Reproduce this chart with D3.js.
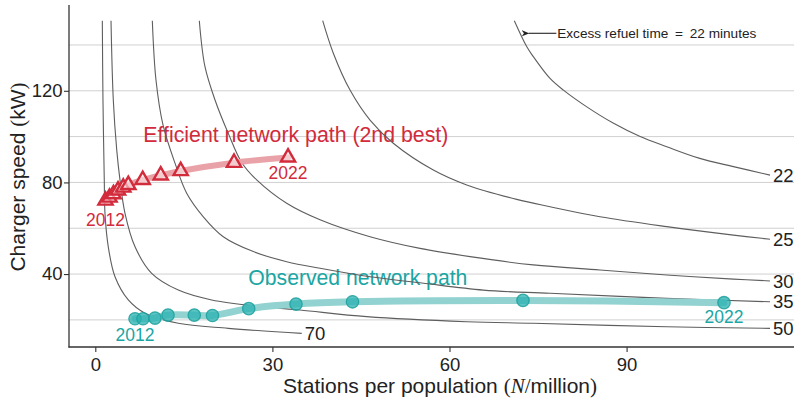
<!DOCTYPE html>
<html>
<head>
<meta charset="utf-8">
<script src="https://cdn.jsdelivr.net/npm/d3@7"></script>
<style>
  body { margin: 0; background: #fff; }
  svg { display: block; }
  text { font-family: "Liberation Sans", Arial, Helvetica, sans-serif; }
</style>
</head>
<body>
<svg id="chart" width="794" height="401"></svg>
<script>
// ---- Data ---------------------------------------------------------------
// Years of both network paths
const years = [2012, 2013, 2014, 2015, 2016, 2017, 2018, 2019, 2020, 2021, 2022];

// Efficient network path (2nd best): stations per million, charger kW
const efficientN = [1.73, 2.41, 3.08, 3.85, 4.74, 5.59, 8.03, 11.08, 14.47, 23.5, 32.65];
const efficientC = [72.1, 73.4, 74.9, 76.5, 77.8, 78.9, 81.1, 83.1, 85.0, 88.6, 90.9];

// Observed network path
const observedN = [6.73, 8.08, 10.11, 12.32, 16.77, 19.85, 25.99, 34.0, 43.57, 72.45, 106.5];
const observedC = [20.5, 20.5, 20.8, 22.1, 22.1, 21.9, 24.9, 26.9, 27.9, 28.5, 27.5];

// Iso-lines of excess refuel time (minutes): [stations per million, charger kW]
const contour22 = [[70.98,150.6],[73.1,139.2],[74.2,134.9],[77.03,125.4],[79.3,120.3],[83.2,113.1],
  [87.8,105.8],[92.3,100.0],[96.8,95.6],[102.4,90.5],[108.1,86.9],[114.3,83.2]];
const contour25 = [[38.52,150.6],[40.32,136.4],[43.15,120.3],[46.54,107.2],[50.48,97.1],[57.26,85.4],
  [62.92,78.9],[71.39,72.6],[77.03,69.4],[85.5,65.0],[96.8,60.7],[108.1,57.0],[114.3,55.2]];
const contour30 = [[17.62,150.6],[18.58,130.5],[20.28,116.0],[22.53,101.4],[24.85,88.5],[27.34,81.1],
  [32.42,70.9],[38.07,63.7],[46.54,56.3],[55.01,51.2],[63.48,47.6],[74.2,44.0],[85.5,41.8],
  [96.8,39.6],[108.1,37.8],[114.3,37.0]];
const contour35 = [[9.66,150.6],[10.28,124.7],[11.47,105.1],[13.5,88.4],[15.48,75.3],[18.3,65.0],
  [21.68,56.3],[26.77,49.8],[32.42,45.4],[38.07,42.5],[46.54,38.8],[55.01,36.2],[65.73,33.0],
  [77.03,31.6],[96.8,29.4],[114.3,27.9]];
const contour50 = [[2.66,150.6],[3.05,116.0],[3.63,94.2],[4.18,81.1],[5.03,66.5],[6.73,51.9],
  [9.55,40.3],[14.06,33.0],[19.72,28.7],[28.19,25.8],[34.68,24.3],[45.98,21.4],[62.92,19.2],
  [74.2,18.5],[96.8,17.0],[114.3,16.3]];
const contour70 = [[1.19,150.6],[1.30,116.0],[1.52,81.1],[1.64,66.5],[2.20,51.9],[3.34,38.8],
  [5.59,28.7],[8.42,22.9],[14.06,18.5],[22.53,16.3],[34.97,14.1]];
const contourMinutes = [22, 25, 30, 35, 50, 70];
const contourPoints = [contour22, contour25, contour30, contour35, contour50, contour70];

// Axis ticks and grid
const xTicks = [0, 30, 60, 90];
const yTicks = [40, 80, 120];
const gridValues = [20, 40, 60, 80, 100, 120, 140];

// ---- Layout -------------------------------------------------------------
const svg = d3.select("#chart");
const plot = { left: 69, right: 794, top: 5, bottom: 347 };

const x = d3.scaleLinear().domain([-4.455, 118.36]).range([plot.left, plot.right]);
const y = d3.scaleLinear().domain([8.16, 157.45]).range([plot.bottom, plot.top]);

const RED = "#d22b3b", RED_LIGHT = "#e9a2a7";
const TEAL = "#1aa6a4", TEAL_LIGHT = "#92d3d1";

svg.append("defs").append("clipPath").attr("id", "panel")
  .append("rect")
  .attr("x", plot.left).attr("y", plot.top)
  .attr("width", plot.right - plot.left).attr("height", plot.bottom - plot.top);

// Horizontal grid
svg.append("g").selectAll("line").data(gridValues).join("line")
  .attr("x1", plot.left).attr("x2", plot.right)
  .attr("y1", d => y(d)).attr("y2", d => y(d))
  .attr("stroke", "#d0d0d0").attr("stroke-width", 1);

// Path labels
svg.append("text")
  .attr("x", x(8.13)).attr("y", y(97.8))
  .attr("font-size", 21.3).attr("fill", RED)
  .text("Efficient network path (2nd best)");

svg.append("text")
  .attr("x", x(25.92)).attr("y", y(35.2))
  .attr("font-size", 21.2).attr("fill", TEAL)
  .text("Observed network path");

// Iso-lines of excess refuel time
const curveLine = d3.line()
  .x(d => x(d[0])).y(d => y(d[1]))
  .curve(d3.curveCatmullRom.alpha(0.5));

const contourG = svg.append("g").attr("clip-path", "url(#panel)");
contourPoints.forEach((pts, i) => {
  contourG.append("path")
    .attr("d", curveLine(pts))
    .attr("fill", "none")
    .attr("stroke", "#5e5e5e")
    .attr("stroke-width", 1.1);
  const end = pts[pts.length - 1];
  svg.append("text")
    .attr("x", x(end[0]) + 3).attr("y", y(end[1]))
    .attr("dy", "0.36em")
    .attr("font-size", 18.5).attr("fill", "#222")
    .text(contourMinutes[i]);
});

// Annotation for the 22-minute line
svg.append("defs").append("marker")
  .attr("id", "arrowhead")
  .attr("viewBox", "0 0 10 10")
  .attr("refX", 1).attr("refY", 5)
  .attr("markerWidth", 7).attr("markerHeight", 7)
  .attr("orient", "auto-start-reverse")
  .append("path").attr("d", "M10,1 L0,5 L10,9 L7,5 Z").attr("fill", "#222");

svg.append("line")
  .attr("x1", x(78.1)).attr("x2", x(73.4))
  .attr("y1", y(145.1)).attr("y2", y(145.1))
  .attr("stroke", "#222").attr("stroke-width", 1.1)
  .attr("marker-end", "url(#arrowhead)");

svg.append("text")
  .attr("x", x(78.25)).attr("y", y(145.1))
  .attr("dy", "0.38em")
  .attr("font-size", 13.6).attr("fill", "#222")
  .text("Excess refuel time\u2002=\u200222 minutes");

// Network paths
const pathLine = d3.line()
  .x(d => x(d[0])).y(d => y(d[1]))
  .curve(d3.curveCatmullRom.alpha(0.5));

const efficient = efficientN.map((n, i) => [n, efficientC[i]]);
const observed = observedN.map((n, i) => [n, observedC[i]]);

svg.append("path")
  .attr("d", pathLine(efficient))
  .attr("fill", "none").attr("stroke", RED_LIGHT)
  .attr("stroke-width", 6).attr("stroke-linecap", "round");

svg.append("path")
  .attr("d", pathLine(observed))
  .attr("fill", "none").attr("stroke", TEAL_LIGHT)
  .attr("stroke-width", 7).attr("stroke-linecap", "round");

svg.append("g").selectAll("circle").data(observed).join("circle")
  .attr("cx", d => x(d[0])).attr("cy", d => y(d[1]))
  .attr("r", 6.2)
  .attr("fill", "rgba(40,178,176,0.75)")
  .attr("stroke", "rgba(28,160,158,0.85)").attr("stroke-width", 1.3);

const tri = d3.symbol(d3.symbolTriangle, 88);
svg.append("g").selectAll("path").data(efficient).join("path")
  .attr("d", tri)
  .attr("transform", d => `translate(${x(d[0])},${y(d[1])})`)
  .attr("fill", "rgba(252,232,234,0.6)")
  .attr("stroke", RED).attr("stroke-width", 2.4)
  .attr("stroke-linejoin", "miter");

// Year labels at the ends of each path
const yearLabel = (pt, dyPx, color, txt) =>
  svg.append("text")
    .attr("x", x(pt[0])).attr("y", y(pt[1]) + dyPx)
    .attr("dy", "0.36em").attr("text-anchor", "middle")
    .attr("font-size", 17.5).attr("fill", color).text(txt);

yearLabel(efficient[0], 19.5, RED, years[0]);
yearLabel(efficient[efficient.length - 1], 15.5, RED, years[years.length - 1]);
yearLabel(observed[0], 15.5, TEAL, years[0]);
yearLabel(observed[observed.length - 1], 14.5, TEAL, years[years.length - 1]);

// Axes
const xAxis = svg.append("g")
  .attr("transform", `translate(0,${plot.bottom})`)
  .call(d3.axisBottom(x).tickValues(xTicks).tickSize(5).tickPadding(6));
const yAxis = svg.append("g")
  .attr("transform", `translate(${plot.left},0)`)
  .call(d3.axisLeft(y).tickValues(yTicks).tickSize(5).tickPadding(1.5));

[xAxis, yAxis].forEach(g => {
  g.select(".domain").remove();
  g.selectAll(".tick line").attr("stroke", "#333").attr("stroke-width", 1.1);
  g.selectAll(".tick text")
    .attr("font-family", "\"Liberation Sans\", Arial, sans-serif")
    .attr("font-size", 18.5).attr("fill", "#222");
});

svg.append("line")
  .attr("x1", plot.left).attr("x2", plot.left)
  .attr("y1", plot.top).attr("y2", plot.bottom + 0.5)
  .attr("stroke", "#333").attr("stroke-width", 1.3);
svg.append("line")
  .attr("x1", plot.left - 0.5).attr("x2", plot.right)
  .attr("y1", plot.bottom).attr("y2", plot.bottom)
  .attr("stroke", "#333").attr("stroke-width", 1.3);

// Axis titles
const serif = "\"Liberation Serif\", \"Times New Roman\", serif";
const xTitle = svg.append("text")
  .attr("x", 440).attr("y", 393)
  .attr("text-anchor", "middle")
  .attr("font-size", 21).attr("fill", "#222");
xTitle.append("tspan").text("Stations per population ");
xTitle.append("tspan").attr("font-family", serif).text("(");
xTitle.append("tspan").attr("font-family", serif).attr("font-style", "italic").text("N");
xTitle.append("tspan").attr("font-family", serif).text("/");
xTitle.append("tspan").text("million");
xTitle.append("tspan").attr("font-family", serif).text(")");

const yTitle = svg.append("text")
  .attr("transform", `translate(25,${(plot.top + plot.bottom) / 2 + 1}) rotate(-90)`)
  .attr("text-anchor", "middle")
  .attr("font-size", 21).attr("fill", "#222");
yTitle.append("tspan").text("Charger speed ");
yTitle.append("tspan").attr("font-family", serif).text("(");
yTitle.append("tspan").text("kW");
yTitle.append("tspan").attr("font-family", serif).text(")");
</script>
</body>
</html>
